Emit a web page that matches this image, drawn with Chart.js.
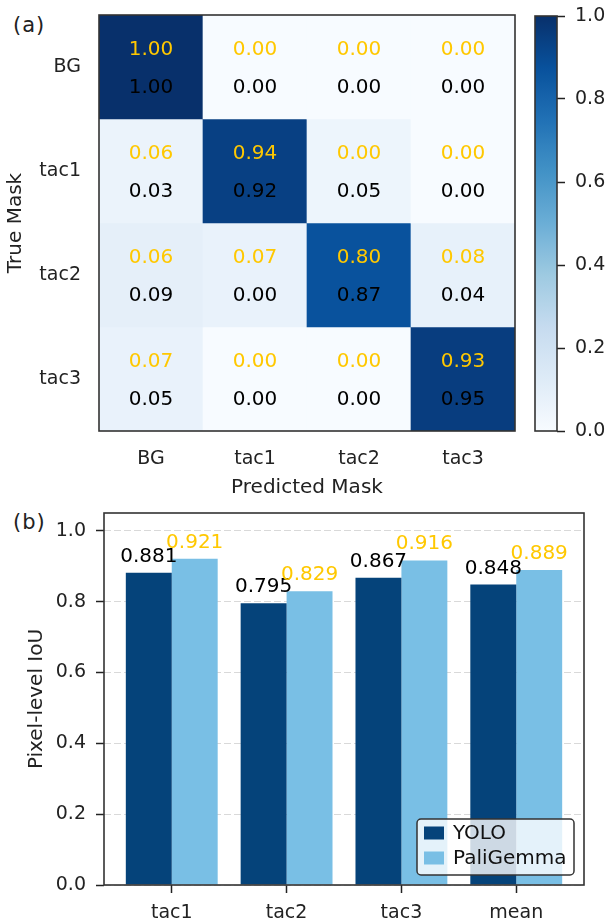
<!DOCTYPE html>
<html>
<head>
<meta charset="utf-8">
<script src="https://cdn.jsdelivr.net/npm/chart.js@4.4.0/dist/chart.umd.min.js"></script>
<style>
  body { margin: 0; background: #fff; width: 608px; height: 924px; position: relative; overflow: hidden; }
  canvas { position: absolute; }
  .tag { position: absolute; font: 21px "DejaVu Sans"; line-height: 24px; letter-spacing: 1px; color: #222; }
</style>
</head>
<body>
<div class="tag" style="left:13px;top:13px">(a)</div>
<div class="tag" style="left:13px;top:510px">(b)</div>
<canvas id="heat" width="520" height="500" style="left:0;top:0"></canvas>
<canvas id="cbar" width="88" height="460" style="left:520px;top:0"></canvas>
<canvas id="bars" width="608" height="424" style="left:0;top:500px"></canvas>
<script>
// Datos
const predLabels = ["BG", "tac1", "tac2", "tac3"];
const trueLabels = ["BG", "tac1", "tac2", "tac3"];
// valores amarillos (arriba) y negros (abajo) de cada celda
const paliMatrix = [
  [1.00, 0.00, 0.00, 0.00],
  [0.06, 0.94, 0.00, 0.00],
  [0.06, 0.07, 0.80, 0.08],
  [0.07, 0.00, 0.00, 0.93]
];
const yoloMatrix = [
  [1.00, 0.00, 0.00, 0.00],
  [0.03, 0.92, 0.05, 0.00],
  [0.09, 0.00, 0.87, 0.04],
  [0.05, 0.00, 0.00, 0.95]
];
const colorbarTicks = [0, 0.2, 0.4, 0.6, 0.8, 1.0];

const barCategories = ["tac1", "tac2", "tac3", "mean"];
const yoloIoU = [0.881, 0.795, 0.867, 0.848];
const paliIoU = [0.921, 0.829, 0.916, 0.889];
const iouTicks = [0, 0.2, 0.4, 0.6, 0.8, 1.0];

// Estilos
const FONT = '"DejaVu Sans"';
const GOLD = "#FFC800";
const YOLO_COLOR = "#05437a";
const PALI_COLOR = "#79bfe5";

Chart.defaults.font.family = FONT;
Chart.defaults.font.size = 19;
Chart.defaults.color = "#222";
Chart.defaults.animation = false;

// Escala de colores Blues
const bluesStops = [
  [247, 251, 255], [222, 235, 247], [198, 219, 239], [158, 202, 225], [107, 174, 214],
  [66, 146, 198], [33, 113, 181], [8, 81, 156], [8, 48, 107]
];
function blues(v) {
  const t = Math.max(0, Math.min(1, v)) * (bluesStops.length - 1);
  const i = Math.min(Math.floor(t), bluesStops.length - 2);
  const f = t - i;
  const a = bluesStops[i], b = bluesStops[i + 1];
  return `rgb(${a.map((c, k) => Math.round(c + (b[k] - c) * f)).join(",")})`;
}

// Sin relleno automático de las etiquetas en los bordes
const noPadV = s => { s.paddingTop = 0; s.paddingBottom = 0; };
const noPadH = s => { s.paddingLeft = 0; s.paddingRight = 0; };

// Marco alrededor del área del gráfico
const frame = {
  id: "frame",
  afterDraw(chart) {
    const { ctx, chartArea: a } = chart;
    ctx.save();
    ctx.strokeStyle = "#333";
    ctx.lineWidth = 1.6;
    ctx.strokeRect(a.left, a.top, a.right - a.left, a.bottom - a.top);
    ctx.restore();
  }
};

// Textos de las celdas
const cellText = {
  id: "cellText",
  afterDatasetsDraw(chart) {
    const { ctx, scales: { x, y } } = chart;
    const h = Math.abs(y.getPixelForValue(1) - y.getPixelForValue(0));
    ctx.save();
    ctx.font = `20px ${FONT}`;
    ctx.textAlign = "center";
    ctx.textBaseline = "middle";
    trueLabels.forEach((_, r) => {
      predLabels.forEach((_, c) => {
        const cx = x.getPixelForValue(c);
        const cy = y.getPixelForValue(r + 0.5) + 2;
        ctx.fillStyle = GOLD;
        ctx.fillText(paliMatrix[r][c].toFixed(2), cx, cy - h * 0.18);
        ctx.fillStyle = "#000";
        ctx.fillText(yoloMatrix[r][c].toFixed(2), cx, cy + h * 0.18);
      });
    });
    ctx.restore();
  }
};

// Mapa de calor
new Chart(document.getElementById("heat"), {
  type: "bar",
  data: {
    labels: predLabels,
    datasets: trueLabels.map((row, r) => ({
      label: row,
      data: predLabels.map(() => [r, r + 1]),
      backgroundColor: predLabels.map((_, c) => blues(Math.max(paliMatrix[r][c], yoloMatrix[r][c]))),
      borderWidth: 0,
      grouped: false,
      barPercentage: 1,
      categoryPercentage: 1
    }))
  },
  options: {
    responsive: false,
    layout: { padding: { top: 15, right: 5, left: 0, bottom: 0 } },
    plugins: { legend: { display: false }, tooltip: { enabled: false } },
    scales: {
      x: {
        grid: { display: false, drawTicks: false },
        border: { display: false },
        ticks: { padding: 17, color: "#222" },
        title: { display: true, text: "Predicted Mask", font: { size: 20 }, padding: { top: 0, bottom: 0 }, color: "#222" },
        afterFit: s => { s.height = 69; noPadH(s); }
      },
      y: {
        type: "linear",
        min: 0,
        max: trueLabels.length,
        reverse: true,
        grid: { display: false, drawTicks: false },
        border: { display: false },
        afterBuildTicks: s => { s.ticks = trueLabels.map((_, i) => ({ value: i + 0.5 })); },
        ticks: { padding: 18, autoSkip: false, color: "#222", callback: (v, i) => trueLabels[i] },
        title: { display: true, text: "True Mask", font: { size: 20 }, padding: { top: 4, bottom: 0 }, color: "#222" },
        afterFit: s => { s.width = 99; noPadV(s); }
      }
    }
  },
  plugins: [cellText, frame]
});

// Barra de colores
new Chart(document.getElementById("cbar"), {
  type: "bar",
  data: {
    labels: [""],
    datasets: [{
      data: [[colorbarTicks[0], colorbarTicks[colorbarTicks.length - 1]]],
      backgroundColor: ctx => {
        const chart = ctx.chart;
        if (!chart.chartArea) return null;
        const y = chart.scales.y;
        const g = chart.ctx.createLinearGradient(0, y.getPixelForValue(0), 0, y.getPixelForValue(1));
        for (let i = 0; i <= 32; i++) g.addColorStop(i / 32, blues(i / 32));
        return g;
      },
      borderWidth: 0,
      barPercentage: 1,
      categoryPercentage: 1
    }]
  },
  options: {
    responsive: false,
    layout: { padding: { top: 16, right: 0, left: 15, bottom: 29 } },
    plugins: { legend: { display: false }, tooltip: { enabled: false } },
    scales: {
      x: { display: false },
      y: {
        position: "right",
        min: 0,
        max: 1,
        afterBuildTicks: s => { s.ticks = colorbarTicks.map(v => ({ value: v })); },
        ticks: { padding: 10, color: "#222", callback: v => v.toFixed(1) },
        grid: { drawOnChartArea: false, tickLength: 8, tickColor: "#222", tickWidth: 1.5 },
        border: { display: false },
        afterFit: s => { s.width = 51; noPadV(s); }
      }
    }
  },
  plugins: [frame]
});

// Etiquetas de valor sobre las barras
const barValues = {
  id: "barValues",
  afterDatasetsDraw(chart) {
    const { ctx } = chart;
    ctx.save();
    ctx.font = `20px ${FONT}`;
    ctx.textAlign = "center";
    ctx.textBaseline = "alphabetic";
    chart.data.datasets.forEach((ds, i) => {
      ctx.fillStyle = i === 0 ? "#000" : GOLD;
      chart.getDatasetMeta(i).data.forEach((el, j) => {
        ctx.fillText(ds.data[j].y.toFixed(3), el.x, el.y - 11);
      });
    });
    ctx.restore();
  }
};

// Leyenda con recuadro dentro del gráfico
const boxLegend = {
  id: "boxLegend",
  afterDraw(chart) {
    const { ctx, chartArea: a } = chart;
    const w = 157, h = 56;
    const x0 = a.right - 10 - w, y0 = a.bottom - 10 - h;
    ctx.save();
    ctx.beginPath();
    ctx.roundRect(x0, y0, w, h, 4);
    ctx.fillStyle = "rgba(255,255,255,0.8)";
    ctx.fill();
    ctx.strokeStyle = "#333";
    ctx.lineWidth = 1.5;
    ctx.stroke();
    ctx.font = `20px ${FONT}`;
    ctx.textBaseline = "middle";
    ctx.textAlign = "left";
    chart.data.datasets.forEach((ds, i) => {
      const cy = y0 + 14 + i * 25;
      ctx.fillStyle = ds.backgroundColor;
      ctx.fillRect(x0 + 7, cy - 6.5, 20, 13);
      ctx.fillStyle = "#111";
      ctx.fillText(ds.label, x0 + 36, cy + 1);
    });
    ctx.restore();
  }
};

// Gráfico de barras
new Chart(document.getElementById("bars"), {
  type: "bar",
  data: {
    datasets: [
      { label: "YOLO", data: yoloIoU.map((v, i) => ({ x: i, y: v })), backgroundColor: YOLO_COLOR },
      { label: "PaliGemma", data: paliIoU.map((v, i) => ({ x: i, y: v })), backgroundColor: PALI_COLOR }
    ]
  },
  options: {
    responsive: false,
    layout: { padding: { top: 13, right: 24, left: 0, bottom: 0 } },
    datasets: { bar: { barPercentage: 1, categoryPercentage: 0.8, borderWidth: 0 } },
    plugins: { legend: { display: false }, tooltip: { enabled: false } },
    scales: {
      x: {
        type: "linear",
        offset: false,
        min: -0.59,
        max: barCategories.length - 1 + 0.59,
        afterBuildTicks: s => { s.ticks = barCategories.map((_, i) => ({ value: i })); },
        ticks: { padding: 9, autoSkip: false, color: "#222", callback: (v, i) => barCategories[i] },
        grid: { offset: false, drawOnChartArea: false, tickLength: 8, tickColor: "#222", tickWidth: 1.5 },
        border: { display: false },
        afterFit: s => { s.height = 39; noPadH(s); }
      },
      y: {
        min: 0,
        max: 1.05,
        z: 1,
        afterBuildTicks: s => { s.ticks = iouTicks.map(v => ({ value: v })); },
        ticks: { padding: 10, color: "#222", callback: v => v.toFixed(1) },
        grid: { color: "rgba(185,185,185,0.55)", lineWidth: 1, tickLength: 8, tickColor: "#222", tickWidth: 1.5 },
        border: { display: false, dash: [7, 3] },
        title: { display: true, text: "Pixel-level IoU", font: { size: 20 }, padding: { top: 25, bottom: 0 }, color: "#222" },
        afterFit: s => { s.width = 104; noPadV(s); }
      }
    }
  },
  plugins: [barValues, frame, boxLegend]
});
</script>
</body>
</html>
